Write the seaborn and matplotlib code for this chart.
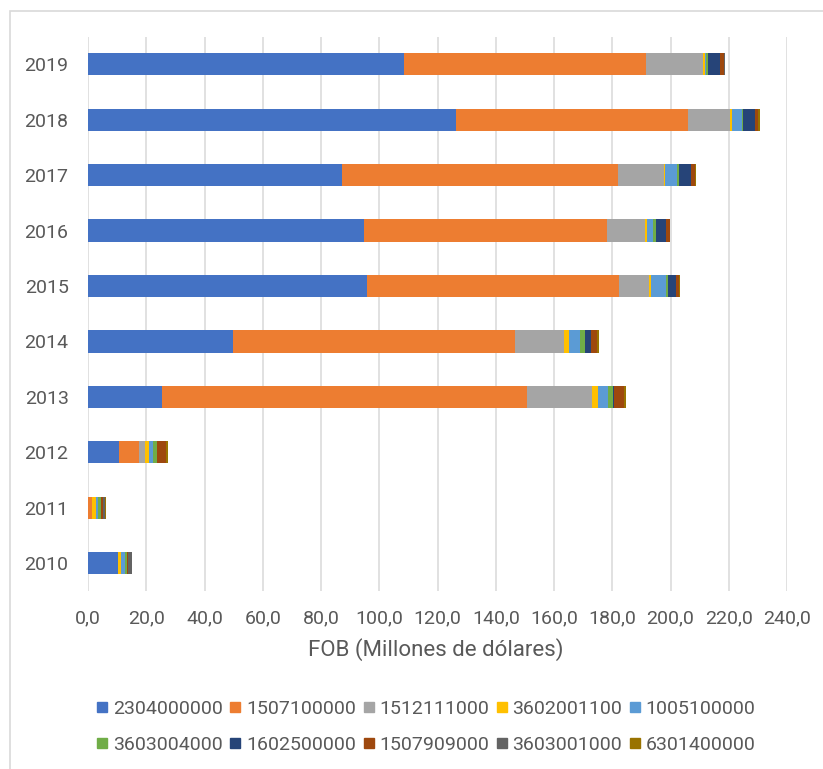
import numpy as np
import pandas as pd
import matplotlib
matplotlib.use("Agg")
import matplotlib.pyplot as plt
from matplotlib.lines import Line2D
from matplotlib.patches import Rectangle
import seaborn as sns

# ---------------- data ----------------
years = ["2010", "2011", "2012", "2013", "2014", "2015", "2016", "2017", "2018", "2019"]
year_order = ["2019", "2018", "2017", "2016", "2015", "2014", "2013", "2012", "2011", "2010"]

series_names = ["2304000000", "1507100000", "1512111000", "3602001100", "1005100000",
                "3603004000", "1602500000", "1507909000", "3603001000", "6301400000"]

s_2304000000 = [10.2, 0.0, 10.6, 25.3, 49.7, 95.7, 94.6, 87.1, 126.4, 108.5]
s_1507100000 = [0.0, 1.4, 7.0, 125.5, 96.8, 86.6, 83.7, 94.9, 79.7, 83.2]
s_1512111000 = [0.0, 0.0, 1.8, 22.1, 16.9, 10.3, 12.9, 15.8, 14.3, 19.6]
s_3602001100 = [1.3, 1.5, 1.4, 2.2, 1.6, 0.8, 0.8, 0.2, 0.6, 0.6]
s_1005100000 = [1.2, 0.6, 1.5, 3.4, 4.0, 5.0, 1.9, 4.2, 3.4, 0.4]
s_3603004000 = [0.8, 0.9, 1.4, 1.8, 1.5, 0.6, 1.1, 0.7, 0.6, 0.6]
s_1602500000 = [0.0, 0.0, 0.0, 0.3, 2.3, 3.0, 3.4, 4.0, 3.9, 4.0]
s_1507909000 = [0.3, 0.6, 3.1, 3.3, 1.9, 1.0, 1.3, 1.6, 1.1, 1.3]
s_3603001000 = [1.2, 0.8, 0.0, 0.0, 0.0, 0.0, 0.0, 0.0, 0.0, 0.4]
s_6301400000 = [0.0, 0.3, 0.6, 0.7, 0.6, 0.4, 0.2, 0.2, 0.9, 0.2]

series_values = [s_2304000000, s_1507100000, s_1512111000, s_3602001100, s_1005100000,
                 s_3603004000, s_1602500000, s_1507909000, s_3603001000, s_6301400000]

colors = ["#4472C4", "#ED7D31", "#A5A5A5", "#FFC000", "#5B9BD5",
          "#70AD47", "#264478", "#9E480E", "#636363", "#997300"]

x_ticks = [0, 20, 40, 60, 80, 100, 120, 140, 160, 180, 200, 220, 240]
x_tick_labels = ["0,0", "20,0", "40,0", "60,0", "80,0", "100,0", "120,0",
                 "140,0", "160,0", "180,0", "200,0", "220,0", "240,0"]
x_label = "FOB (Millones de dólares)"

# ---------------- style ----------------
sns.set_theme(style="white")
plt.rcParams["font.family"] = ["Roboto", "DejaVu Sans"]
text_color = "#595959"
grid_color = "#D9D9D9"
fs = 14

W, H = 823, 769
fig = plt.figure(figsize=(W / 100, H / 100), dpi=100)
fig.patch.set_facecolor("white")
ax = fig.add_axes([88 / W, 1 - 591 / H, 699 / W, (591 - 36.5) / H])

# table + cumulative sums for stacking
df = pd.DataFrame({name: vals for name, vals in zip(series_names, series_values)})
df["year"] = years
cum = df[series_names].cumsum(axis=1)
cum["year"] = years

# draw from the outermost cumulative sum inward (seaborn stacking)
for name, col in reversed(list(zip(series_names, colors))):
    sns.barplot(data=cum, x=name, y="year", order=year_order, orient="h",
                color=col, saturation=1, width=0.4, errorbar=None,
                linewidth=0, ax=ax)

ax.set_xlim(0, 240)
ax.set_xticks(x_ticks)
ax.set_xticklabels(x_tick_labels)
ax.set_xlabel("")
ax.set_ylabel("")
ax.set_axisbelow(True)
ax.grid(axis="x", color=grid_color, linewidth=1.1)
ax.grid(axis="y", visible=False)
for sp in ax.spines.values():
    sp.set_visible(False)
ax.tick_params(axis="x", length=0, pad=13, labelsize=fs, labelcolor=text_color)
ax.tick_params(axis="y", length=0, pad=14, labelsize=fs, labelcolor=text_color)

fig.text(436 / W, 1 - 650 / H, x_label, ha="center", va="center",
         fontsize=16, color=text_color)

# legend: row-major order (matplotlib fills columns first)
ncol = 5
nrow = 2
idx = [r * ncol + c for c in range(ncol) for r in range(nrow)]
handles = [Line2D([], [], marker="s", linestyle="", color=colors[i], markersize=7.2)
           for i in idx]
labels = [series_names[i] for i in idx]
leg = fig.legend(handles, labels, loc="center", ncol=ncol,
                 bbox_to_anchor=(425.5 / W, 1 - 727 / H),
                 frameon=False, fontsize=fs, handlelength=0.7,
                 handletextpad=0.2, columnspacing=0.3, labelspacing=0.9,
                 borderpad=0, borderaxespad=0)
for t in leg.get_texts():
    t.set_color(text_color)

# chart border (left and top edges visible in the crop)
fig.add_artist(Rectangle((10 / W, -0.1), 1.2, 1.1 - 11 / H, transform=fig.transFigure,
                         fill=False, edgecolor=grid_color, linewidth=1.2))

fig.savefig("out.png", dpi=100)
